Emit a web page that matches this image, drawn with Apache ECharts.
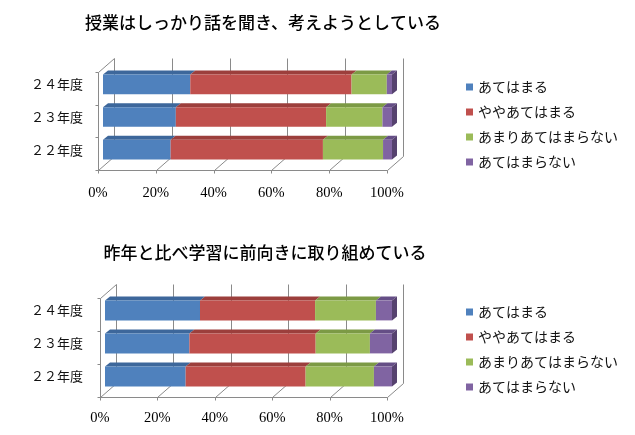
<!DOCTYPE html>
<html>
<head>
<meta charset="utf-8">
<script src="https://cdn.jsdelivr.net/npm/echarts@6/dist/echarts.min.js"></script>
<style>
html,body{margin:0;padding:0;background:#fff;}
#c{width:635px;height:435px;}
</style>
</head>
<body>
<div id="c"></div>
<script>
// ---- data ----
const categories = ['２４年度', '２３年度', '２２年度'];
const seriesNames = ['あてはまる', 'ややあてはまる', 'あまりあてはまらない', 'あてはまらない'];
const xTicks = [0, 20, 40, 60, 80, 100];

const title1 = '授業はしっかり話を聞き、考えようとしている';
const c1_atehamaru = [30.2, 25.2, 23.4];
const c1_yaya = [55.8, 52.0, 52.7];
const c1_amari = [12.2, 19.5, 20.8];
const c1_nai = [1.8, 3.3, 3.1];

const title2 = '昨年と比べ学習に前向きに取り組めている';
const c2_atehamaru = [33.1, 29.4, 28.1];
const c2_yaya = [40.1, 44.0, 41.8];
const c2_amari = [21.2, 18.9, 23.8];
const c2_nai = [5.6, 7.7, 6.3];

// ---- styles ----
const frontColors = ['#4F81BD', '#C0504D', '#9BBB59', '#8064A2'];
const topColors = ['#3d679b', '#9c3f3c', '#7c9a45', '#654e86'];
const sideColors = ['#375d8c', '#8a3734', '#6e893c', '#56426f'];
const gridColor = '#8a8a8a';
const DX = 5, DY = 4;        // bar depth
const FX = -5, FY = 4;       // front plane offset from bar plane
const BX = 11, BY = -10;     // back plane offset from bar plane

function frameSeries(idx) {
  return {
    type: 'custom', name: 'frame' + idx, xAxisIndex: idx, yAxisIndex: idx,
    silent: true, z: 1, legendHoverLink: false,
    data: xTicks.map(v => [v, 0]),
    encode: { x: 0, y: 1 },
    renderItem: function (params, api) {
      const v = api.value(0);
      const X = api.coord([v, 0])[0];
      const c0 = api.coord([0, 0]);
      const X0 = c0[0];
      const X100 = api.coord([100, 0])[0];
      const bandH = api.size([0, 1])[1];
      const top = c0[1] - bandH / 2;
      const bottom = top + categories.length * bandH;
      const st = { stroke: gridColor, lineWidth: 1, fill: null };
      const ch = [];
      const L = (x1, y1, x2, y2) => ch.push({ type: 'line', shape: { x1: Math.round(x1) + 0.5, y1: Math.round(y1) + 0.5, x2: Math.round(x2) + 0.5, y2: Math.round(y2) + 0.5 }, style: st });
      // back wall gridline
      L(X + BX, top + BY, X + BX, bottom + BY);
      // floor diagonal
      L(X + BX, bottom + BY, X + FX, bottom + FY);
      // front tick
      L(X + FX, bottom + FY, X + FX, bottom + FY + 3);
      if (params.dataIndex === 0) {
        L(X0 + FX, bottom + FY, X100 + FX, bottom + FY);
        L(X0 + FX, top + FY, X0 + FX, bottom + FY);
        L(X0 + FX, top + FY, X0 + BX, top + BY);
        for (let k = 0; k <= categories.length; k++) {
          L(X0 + FX - 3, top + FY + k * bandH, X0 + FX, top + FY + k * bandH);
        }
      }
      return { type: 'group', children: ch };
    }
  };
}

function barSeries(idx, arrays) {
  const out = [];
  const cum = categories.map(() => 0);
  arrays.forEach((arr, s) => {
    const data = arr.map((val, i) => {
      const start = cum[i];
      cum[i] += val;
      return [start, cum[i], i];
    });
    const isLast = s === arrays.length - 1;
    out.push({
      type: 'custom', name: seriesNames[s], xAxisIndex: idx, yAxisIndex: idx,
      z: 2 + s,
      itemStyle: { color: frontColors[s] },
      data: data,
      encode: { x: [0, 1], y: 2 },
      renderItem: function (params, api) {
        const p0 = api.coord([api.value(0), api.value(2)]);
        const p1 = api.coord([api.value(1), api.value(2)]);
        const h = api.size([0, 1])[1] * 0.6;
        const x0 = p0[0], x1 = p1[0];
        const yT = p0[1] - h / 2, yB = p0[1] + h / 2;
        const ch = [
          { type: 'polygon', shape: { points: [[x0, yT], [x0 + DX, yT - DY], [x1 + DX, yT - DY], [x1, yT]] }, style: { fill: topColors[s] } },
          { type: 'rect', shape: { x: x0, y: yT, width: x1 - x0, height: yB - yT }, style: { fill: frontColors[s] } }
        ];
        if (isLast) {
          ch.push({ type: 'polygon', shape: { points: [[x1, yT], [x1 + DX, yT - DY], [x1 + DX, yB - DY], [x1, yB]] }, style: { fill: sideColors[s] } });
        }
        return { type: 'group', children: ch };
      }
    });
  });
  return out;
}

const catFont = 'Noto Sans CJK JP';
function xAxis(idx, margin) {
  return {
    type: 'value', gridIndex: idx, min: 0, max: 100, interval: 20,
    axisLine: { show: false }, axisTick: { show: false }, splitLine: { show: false },
    axisLabel: { formatter: '{value}%', margin: margin, fontFamily: 'Liberation Serif', fontSize: 14.5, color: '#000', lineHeight: 16, padding: [0, 10, 0, 0] }
  };
}
function yAxis(idx, margin, padTop) {
  return {
    type: 'category', gridIndex: idx, data: categories, inverse: true,
    axisLine: { show: false }, axisTick: { show: false }, splitLine: { show: false },
    axisLabel: { margin: margin, fontFamily: catFont, fontSize: 13, color: '#111', padding: [padTop, 0, 0, 0] }
  };
}
function legend(idx, top) {
  return {
    orient: 'vertical', left: 461, top: top, itemWidth: 7, itemHeight: 7, itemGap: 11,
    icon: 'rect', data: seriesNames, selectedMode: false,
    textStyle: { fontFamily: catFont, fontSize: 14, color: '#111' }
  };
}

const chart = echarts.init(document.getElementById('c'), null, { renderer: 'canvas' });
chart.setOption({
  animation: false,
  backgroundColor: '#fff',
  title: [
    { text: title1, left: 258, top: 9, textAlign: 'center', textStyle: { fontFamily: catFont, fontSize: 17, fontWeight: 500, color: '#000' } },
    { text: title2, left: 260, top: 239, textAlign: 'center', textStyle: { fontFamily: catFont, fontSize: 17, fontWeight: 500, color: '#000' } }
  ],
  legend: [legend(0, 75), legend(1, 300)],
  grid: [
    { left: 103, width: 289, top: 68, height: 98 },
    { left: 105, width: 287, top: 294, height: 99 }
  ],
  xAxis: [xAxis(0, 19), xAxis(1, 17)],
  yAxis: [yAxis(0, 20, 8), yAxis(1, 22, 10)],
  series: [
    frameSeries(0),
    ...barSeries(0, [c1_atehamaru, c1_yaya, c1_amari, c1_nai]),
    frameSeries(1),
    ...barSeries(1, [c2_atehamaru, c2_yaya, c2_amari, c2_nai])
  ]
});
</script>
</body>
</html>
